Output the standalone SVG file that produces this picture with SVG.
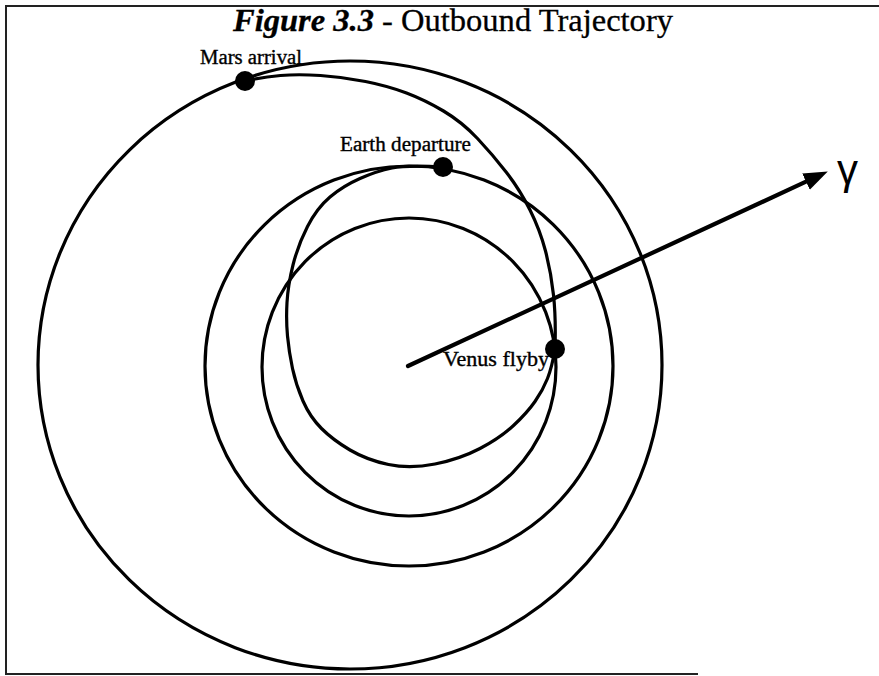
<svg xmlns="http://www.w3.org/2000/svg" width="879" height="676" viewBox="0 0 879 676">
<defs>
<style>
.frame{fill:none;stroke:#222;stroke-width:2}
.orbit{fill:none;stroke:#000;stroke-width:3.2}
.traj{fill:none;stroke:#000;stroke-width:3.2;stroke-linecap:round}
.axis{fill:none;stroke:#000;stroke-width:4.2;stroke-linecap:round}
.dot{fill:#000}
.lbl{font-family:"Liberation Serif","Times New Roman",serif;font-size:20px;fill:#000;stroke:#000;stroke-width:0.35}
.title{font-family:"Liberation Serif","Times New Roman",serif;font-size:31px;fill:#000;stroke:#000;stroke-width:0.3}
</style>
<marker id="ah" markerUnits="userSpaceOnUse" viewBox="0 0 24 18" refX="0" refY="9" markerWidth="24" markerHeight="18" orient="auto">
<path d="M0,0 L24,9 L0,18 z" fill="#000"/>
</marker>
</defs>
<rect width="879" height="676" fill="#fff"/>
<path id="frame" class="frame" d="M879,6 H6 V674 H698"/>
<text id="title" class="title" x="233" y="31" textLength="440" lengthAdjust="spacingAndGlyphs"><tspan font-weight="bold" font-style="italic">Figure 3.3</tspan> - Outbound Trajectory</text>
<g id="orbits">
<ellipse id="mars-orbit" class="orbit" cx="350" cy="365" rx="312" ry="304"/>
<ellipse id="earth-orbit" class="orbit" cx="409" cy="366" rx="204" ry="200"/>
<ellipse id="venus-orbit" class="orbit" cx="409" cy="367" rx="147" ry="149"/>
</g>
<g id="connectors">
<path id="leg-earth-venus" class="traj" d="M443,167 Q407,165 392,168 T360,178.5 T330,197 T307.5,226.5 T293,265 T287,302.5 T287.5,336 T292.5,368.5 T303,401 T321.5,428.5 T350,450 T388.5,464.5 T435,464 T480,448.5 T513.5,425.5 T535,401.5 T547.5,378.5 T555,349"/>
<path id="leg-venus-mars" class="traj" d="M555,349 Q556,318 553.5,295 T545.5,251 T530,210 T506.5,172.5 T477.5,138.5 T443.5,111 T406.5,93 T365.5,81.5 T320.5,75.5 T280.5,75.5 T245,81"/>
<line id="vernal-axis" class="axis" x1="408" y1="366" x2="806" y2="181.7" marker-end="url(#ah)"/>
</g>
<g id="mars-arrival">
<circle class="dot" cx="245" cy="81" r="10"/>
<text class="lbl" x="200" y="64" textLength="102" lengthAdjust="spacingAndGlyphs">Mars arrival</text>
</g>
<g id="earth-departure">
<circle class="dot" cx="443" cy="167" r="10"/>
<text class="lbl" x="340" y="151" textLength="131" lengthAdjust="spacingAndGlyphs">Earth departure</text>
</g>
<g id="venus-flyby">
<circle class="dot" cx="555" cy="349" r="10"/>
<text class="lbl" x="443" y="366" textLength="106" lengthAdjust="spacingAndGlyphs">Venus flyby</text>
</g>
<g id="gamma">
<text x="837" y="184" font-family="Liberation Sans, Arial, sans-serif" font-size="42" fill="#000">γ</text>
</g>
</svg>
